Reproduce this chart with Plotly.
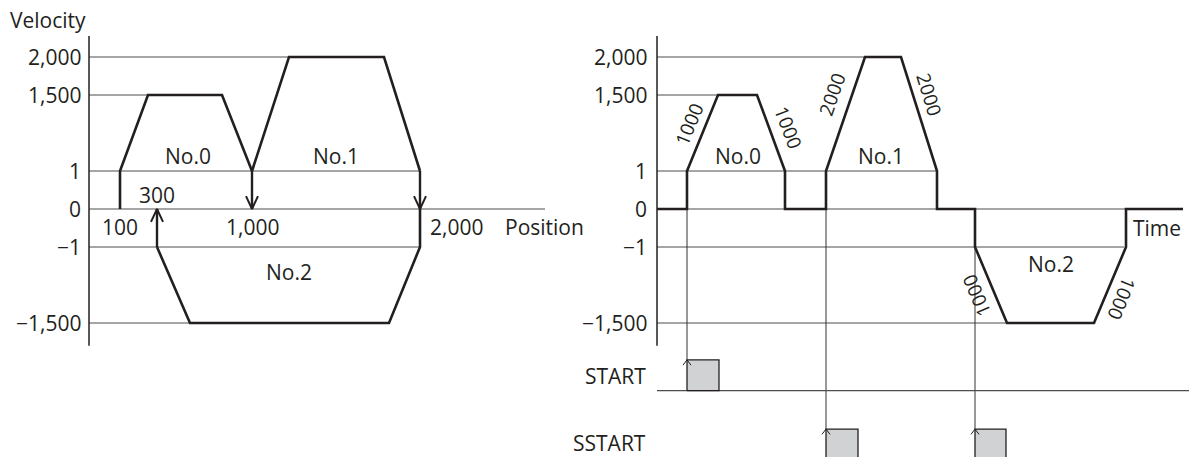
import plotly.graph_objects as go

# velocity levels and their slot on the (broken) schematic velocity axis
VEL_LEVELS = [2000, 1500, 1, 0, -1, -1500]
VEL_SLOTS = [4, 3, 1, 0, -1, -3]
VEL_LABELS = ["2,000", "1,500", "1", "0", "\u22121", "\u22121,500"]
SLOT = dict(zip(VEL_LEVELS, VEL_SLOTS))

# --- left panel: velocity vs position (schematic position units) ---
POS_TICKS = [31, 68, 163, 331]
POS_LABELS = ["100", "300", "1,000", "2,000"]
L_GRID_END = [200, 59, 331, 456, 331, 101]

L_NO0_X = [31, 31, 59, 133, 163]
L_NO0_V = [0, 1, 1500, 1500, 1]
L_NO1_X = [163, 200, 295, 331]
L_NO1_V = [1, 2000, 2000, 1]
L_NO2_X = [68, 101, 300, 331, 331]
L_NO2_V = [-1, -1500, -1500, -1, 0]
# arrows: x, from velocity, to velocity
L_ARROWS = [(163, 1, 0), (331, 1, 0), (68, -1, 0)]

# --- right panel: velocity vs time (schematic time units) ---
R_GRID_END = [208, 61, 280, 526, 467, 350]
R_T = [0, 30, 30, 61, 100, 128, 128, 169, 169, 208, 244, 280, 280, 318, 318, 350, 437, 469, 469, 526]
R_V = [0, 0, 1, 1500, 1500, 1, 0, 0, 1, 2000, 2000, 1, 0, 0, -1, -1500, -1500, -1, 0, 0]
# ramp annotations: label, t, slot-y, angle
R_RAMPS = [("1000", 32, 2.21, -67.5), ("1000", 131, 2.16, 69), ("2000", 175, 3.0, -71),
           ("2000", 272, 3.03, 73), ("1000", 320, -2.29, -113), ("1000", 465, -2.34, 112)]
START_PULSES = [(30, 62)]
SSTART_PULSES = [(169, 201), (318, 349)]
TRIGGERS = [(30, 0, "START"), (169, 0, "SSTART"), (318, -1, "SSTART")]

START_BASE, START_TOP = -4.78, -3.97
SSTART_BASE, SSTART_TOP = -7.2, -5.79

INK = "#231f20"
GRID = "#4d4d4d"
FONT = "Open Sans"

fig = go.Figure()


def line(xs, ys, ax, width=1.0, color=INK, **kw):
    fig.add_trace(go.Scatter(x=xs, y=ys, xaxis=ax, yaxis="y", mode="lines",
                             line=dict(color=color, width=width), hoverinfo="skip",
                             showlegend=False, **kw))


def chevron(x, tip, direction, ax, half_w=6, depth=0.34, width=2.0):
    line([x - half_w, x, x + half_w], [tip - direction * depth, tip, tip - direction * depth],
         ax, width=width)


# gridlines
for v, xe in zip(VEL_LEVELS, L_GRID_END):
    line([0, xe], [SLOT[v], SLOT[v]], "x", width=1, color=GRID)
for v, xe in zip(VEL_LEVELS, R_GRID_END):
    line([0, xe], [SLOT[v], SLOT[v]], "x2", width=1, color=GRID)

# vertical axes
line([0, 0], [4.55, -3.6], "x", width=1.5)
line([0, 0], [4.55, -3.6], "x2", width=1.5)

# left profiles
for xs, vs in [(L_NO0_X, L_NO0_V), (L_NO1_X, L_NO1_V), (L_NO2_X, L_NO2_V)]:
    line(xs, [SLOT[v] for v in vs], "x", width=2.6)
for x, v0, v1 in L_ARROWS:
    line([x, x], [SLOT[v0], SLOT[v1]], "x", width=2.4)
    chevron(x, SLOT[v1], 1 if SLOT[v1] > SLOT[v0] else -1, "x")

# right: trigger lines down to pulses
for t, v, row in TRIGGERS:
    top = START_TOP if row == "START" else SSTART_TOP
    line([t, t], [SLOT[v], top], "x2", width=1, color="#333333")

# START baseline and pulses
line([0, 532], [START_BASE, START_BASE], "x2", width=1.3, color=GRID)
for a, b in START_PULSES:
    line([a, a, b, b, a], [START_BASE, START_TOP, START_TOP, START_BASE, START_BASE], "x2",
         width=1.3, fill="toself", fillcolor="#d1d2d4")
for a, b in SSTART_PULSES:
    line([a, a, b, b, a], [SSTART_BASE, SSTART_TOP, SSTART_TOP, SSTART_BASE, SSTART_BASE], "x2",
         width=1.3, fill="toself", fillcolor="#d1d2d4")
for t, v, row in TRIGGERS:
    top = START_TOP if row == "START" else SSTART_TOP
    chevron(t, top, 1, "x2", half_w=4, depth=0.14, width=1)

# right profile
line(R_T, [SLOT[v] for v in R_V], "x2", width=2.6)

ann = []


def text(s, x, y, ax, anchor="center", size=21, angle=0):
    ann.append(dict(text=s, x=x, y=y, xref=ax, yref="y", showarrow=False, xanchor=anchor,
                    yanchor="middle", textangle=angle,
                    font=dict(family=FONT, size=size, color=INK)))


for lab, s in zip(VEL_LABELS, VEL_SLOTS):
    text(lab, -6, s, "x", anchor="right")
    text(lab, -8, s, "x2", anchor="right")
text("Velocity", -81, 4.97, "x", anchor="left")
text("Velocity", -81, 4.97, "x2", anchor="left")

for x, lab in zip(POS_TICKS, POS_LABELS):
    if lab == "300":
        text(lab, x, 0.37, "x")
    elif lab == "2,000":
        text(lab, x + 36, -0.47, "x")
    else:
        text(lab, x, -0.47, "x")
text("Position", 455, -0.47, "x")
text("No.0", 99, 1.39, "x")
text("No.1", 247, 1.39, "x")
text("No.2", 200, -1.66, "x")

text("No.0", 81, 1.39, "x2")
text("No.1", 224, 1.39, "x2")
text("No.2", 394, -1.45, "x2")
text("Time", 500, -0.5, "x2")
for lab, t, y, ang in R_RAMPS:
    text(lab, t, y, "x2", size=19, angle=ang)
text("START", -9, -4.39, "x2", anchor="right")
text("SSTART", -9, -6.16, "x2", anchor="right")

fig.update_layout(
    width=1189, height=457, margin=dict(l=0, r=0, t=0, b=0),
    paper_bgcolor="white", plot_bgcolor="white", annotations=ann, showlegend=False,
    xaxis=dict(domain=[0, 0.5], range=[-89, 505.5], visible=False, fixedrange=True),
    xaxis2=dict(domain=[0.5, 1], range=[-62.5, 532], visible=False, anchor="y", fixedrange=True),
    yaxis=dict(range=[-6.526, 5.5], visible=False, fixedrange=True),
)

fig.write_html("out.html", config={"displayModeBar": False},
               post_script="document.body.style.margin='0';")
